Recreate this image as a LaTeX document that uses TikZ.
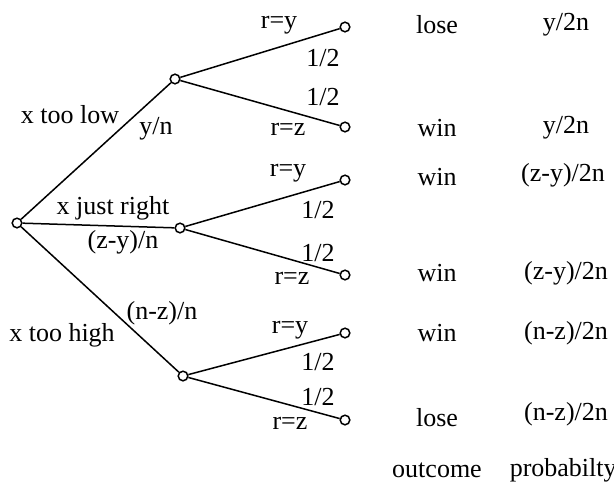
\documentclass[tikz,border=0pt]{standalone}
\usepackage{fontspec}
\setmainfont{Liberation Serif}
\usepackage{tikz}

\begin{document}
\begin{tikzpicture}[x=0.5pt,y=-0.5pt,line width=0.75pt,
  every node/.style={font=\fontsize{13}{15}\selectfont,inner sep=0pt},
  knot/.style={draw,circle,minimum size=4.8pt,inner sep=0pt}]
\useasboundingbox (0,0) rectangle (614,488);
% tree nodes
\node[knot] (root) at (17,223) {};
\node[knot] (lo) at (175,79) {};
\node[knot] (ok) at (180,228) {};
\node[knot] (hi) at (183,376) {};
\node[knot] (l1) at (345,27) {};
\node[knot] (l2) at (345,127) {};
\node[knot] (l3) at (345,180) {};
\node[knot] (l4) at (345,275) {};
\node[knot] (l5) at (345,333) {};
\node[knot] (l6) at (345,420) {};
\draw (root) -- (lo); \draw (root) -- (ok); \draw (root) -- (hi);
\draw (lo) -- (l1); \draw (lo) -- (l2);
\draw (ok) -- (l3); \draw (ok) -- (l4);
\draw (hi) -- (l5); \draw (hi) -- (l6);
% branch labels
\node (tlow) at (70,115) {x too low};
\node (plow) at (156,129) {y/n};
\node (tok) at (113,208) {x just right};
\node (pok) at (123,242) {(z-y)/n};
\node (phi) at (162,313) {(n-z)/n};
\node (thi) at (62,335) {x too high};
\node (ry1) at (279,25) {r=y};  \node (h1) at (323,58) {1/2};
\node (h2) at (323,97) {1/2};   \node (rz1) at (288,129) {r=z};
\node (ry2) at (288,173) {r=y}; \node (h3) at (318,210) {1/2};
\node (h4) at (318,253) {1/2};  \node (rz2) at (292,278) {r=z};
\node (ry3) at (290,330) {r=y}; \node (h5) at (318,362) {1/2};
\node (h6) at (318,397) {1/2};  \node (rz3) at (290,423) {r=z};
% outcome and probability columns
\node (o1) at (437,25) {lose};  \node (q1) at (566,25) {y/2n};
\node (o2) at (437,128) {win};  \node (q2) at (566,128) {y/2n};
\node (o3) at (437,177) {win};  \node (q3) at (563,175) {(z-y)/2n};
\node (o4) at (437,273) {win};  \node (q4) at (566,273) {(z-y)/2n};
\node (o5) at (437,333) {win};  \node (q5) at (566,333) {(n-z)/2n};
\node (o6) at (437,418) {lose}; \node (q6) at (566,414) {(n-z)/2n};
\node (out) at (437,470) {outcome};
\node[anchor=west] (prob) at (509,470) {probabilty};
\end{tikzpicture}
\end{document}
